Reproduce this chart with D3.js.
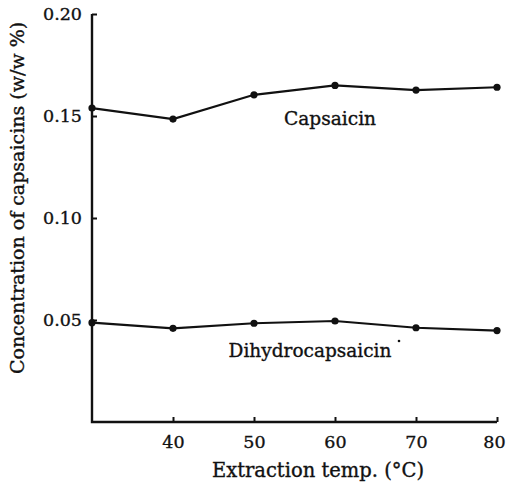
<!DOCTYPE html>
<html lang="en">
<head>
    <meta charset="UTF-8">
    <title>Capsaicins vs extraction temp</title>
    <script src="https://cdn.jsdelivr.net/npm/d3@7/dist/d3.min.js"></script>
    <style>
        body { margin: 0; background: #fff; }
        text { font-family: "DejaVu Serif", "Liberation Serif", serif; fill: #111; stroke: #111; stroke-width: 0.35px; }
    </style>
</head>
<body>
<svg width="506" height="488"></svg>

<script>
    // extraction temperature (°C)
    var temps = [30, 40, 50, 60, 70, 80];
    // concentration (w/w %)
    var capsaicin = [0.1539, 0.1485, 0.1604, 0.1650, 0.1627, 0.1641];
    var dihydro = [0.0487, 0.0459, 0.0484, 0.0495, 0.0462, 0.0448];
    var xTicks = [40, 50, 60, 70, 80];
    var yTicks = [0.05, 0.10, 0.15, 0.20];

    var svg = d3.select('svg');
    var padL = 92, padR = 497, padT = 14, padB = 422;

    var x = d3.scaleLinear().domain([30, 80]).range([padL, padR]);
    var y = d3.scaleLinear().domain([0, 0.20]).range([padB, padT]);

    // axes, ticks pointing inward
    var xAxis = d3.axisBottom(x).tickValues(xTicks).tickSize(-5).tickPadding(14)
        .tickFormat(d3.format('d'));
    var yAxis = d3.axisLeft(y).tickValues(yTicks).tickSize(-5).tickPadding(10)
        .tickFormat(d3.format('.2f'));

    var gx = svg.append('g').attr('transform', 'translate(0,' + padB + ')').call(xAxis);
    var gy = svg.append('g').attr('transform', 'translate(' + padL + ',0)').call(yAxis);

    [gx, gy].forEach(function (g) {
        g.select('.domain').remove();
        g.selectAll('.tick line').attr('stroke', '#111').attr('stroke-width', 2);
        g.selectAll('.tick text').attr('font-size', 17.5).attr('fill', '#111')
            .attr('font-family', '"DejaVu Serif", serif');
    });
    gx.selectAll('.tick text').attr('dy', '0.71em')
        .attr('dx', function (d) { return d === 80 ? -3 : 0; });

    // axis lines
    svg.append('path')
        .attr('d', 'M' + padL + ',' + padT + 'V' + padB + 'H' + padR)
        .attr('fill', 'none').attr('stroke', '#111').attr('stroke-width', 2.4);

    var line = d3.line()
        .x(function (d, i) { return x(temps[i]); })
        .y(function (d) { return y(d); });

    [capsaicin, dihydro].forEach(function (s) {
        svg.append('path').attr('d', line(s)).attr('fill', 'none')
            .attr('stroke', '#111').attr('stroke-width', 2.2);
        svg.append('g').selectAll('circle').data(s).enter().append('circle')
            .attr('cx', function (d, i) { return x(temps[i]); })
            .attr('cy', function (d) { return y(d); })
            .attr('r', 3.6).attr('fill', '#111');
    });

    // series labels
    svg.append('text').attr('x', 330).attr('y', 125).attr('text-anchor', 'middle')
        .attr('font-size', 18.6).text('Capsaicin');
    svg.append('text').attr('x', 310).attr('y', 357).attr('text-anchor', 'middle')
        .attr('font-size', 18.5).text('Dihydrocapsaicin');
    svg.append('circle').attr('cx', 399).attr('cy', 341).attr('r', 1.3).attr('fill', '#111');

    // axis titles
    svg.append('text').attr('x', 318).attr('y', 477).attr('text-anchor', 'middle')
        .attr('font-size', 19.5).text('Extraction temp. (°C)');
    svg.append('text').attr('transform', 'translate(24,198) rotate(-90)')
        .attr('text-anchor', 'middle').attr('font-size', 19)
        .text('Concentration of capsaicins (w/w %)');
</script>
</body>
</html>
